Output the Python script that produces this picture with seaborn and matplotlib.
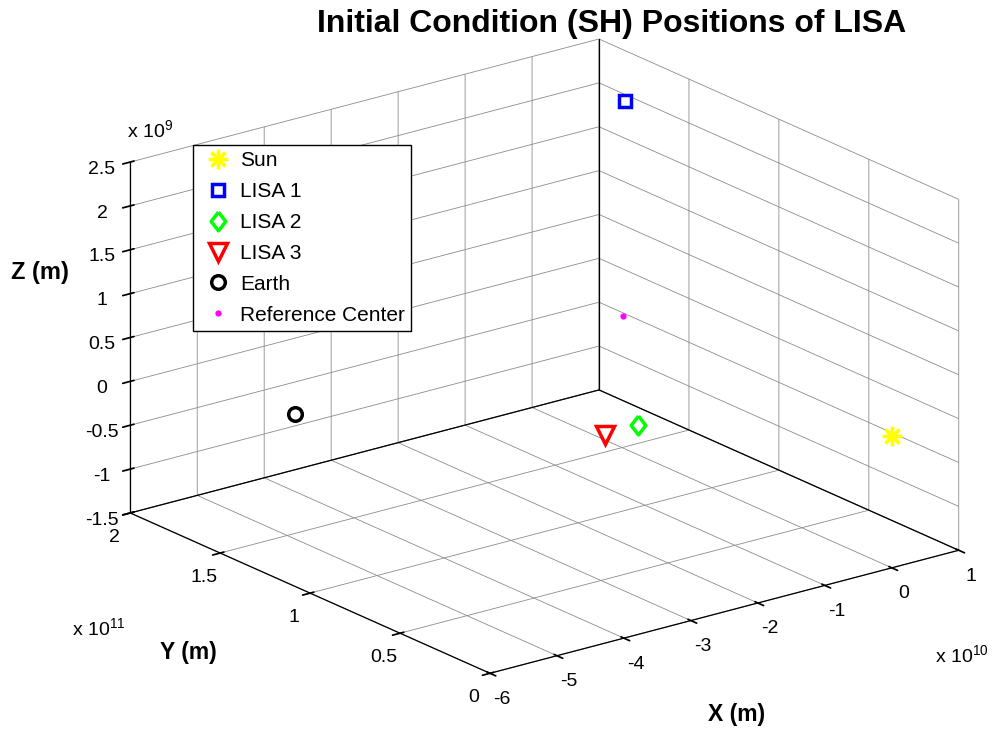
import numpy as np
import matplotlib
matplotlib.use("Agg")
import matplotlib.pyplot as plt
import seaborn as sns
from mpl_toolkits.mplot3d import proj3d

# ---------------- data ----------------
names = ["Sun", "LISA 1", "LISA 2", "LISA 3", "Earth", "Reference Center"]
x_m = [0.0, 0.0, 2.5e9, -2.5e9, -5.15e10, 0.0]
y_m = [0.0, 1.4816e11, 1.5032e11, 1.5032e11, 1.403e11, 1.496e11]
z_m = [0.0, 2.47e9, -1.30e9, -1.31e9, 0.0, 0.0]

x_ticks = [-6e10, -5e10, -4e10, -3e10, -2e10, -1e10, 0.0, 1e10]
x_tick_labels = ["-6", "-5", "-4", "-3", "-2", "-1", "0", "1"]
y_ticks = [0.0, 0.5e11, 1.0e11, 1.5e11, 2.0e11]
y_tick_labels = ["0", "0.5", "1", "1.5", "2"]
z_ticks = [-1.5e9, -1.0e9, -0.5e9, 0.0, 0.5e9, 1.0e9, 1.5e9, 2.0e9, 2.5e9]
z_tick_labels = ["-1.5", "-1", "-0.5", "0", "0.5", "1", "1.5", "2", "2.5"]

# ---------------- styles ----------------
colors = ["#ffff00", "#0000ff", "#00ff00", "#ff0000", "#000000", "#ff00ff"]
diamond = [(0, 1), (0.78, 0), (0, -1), (-0.78, 0), (0, 1)]
markers = [(8, 2, 0), "s", diamond, "v", "o", "o"]
msizes = [14, 8.8, 13.5, 12.5, 9.8, 4.5]
mews = [2.4, 2.5, 2.5, 2.5, 2.5, 0.0]
filled = [True, False, False, False, False, True]

sns.set_theme(style="white")
plt.rcParams["font.family"] = ["Liberation Sans", "DejaVu Sans"]
plt.rcParams["mathtext.fontset"] = "custom"
plt.rcParams["mathtext.rm"] = "Liberation Sans"
plt.rcParams["grid.color"] = "0.55"
plt.rcParams["grid.linewidth"] = 0.6
plt.rcParams["text.color"] = "black"
plt.rcParams["axes.labelcolor"] = "black"
plt.rcParams["xtick.color"] = "black"
plt.rcParams["ytick.color"] = "black"

W, H = 993, 729
fig = plt.figure(figsize=(W / 100, H / 100), dpi=100)
side = 900
cx, cy = 544.5, 356.2
ax = fig.add_axes([(cx - side / 2) / W, (H - cy - side / 2) / H, side / W, side / H],
                  projection="3d")
ax.set_proj_type("ortho")
ax.view_init(elev=20, azim=-127.5)
aspect = (1.0, 1.0, 0.632)
zoom = 1.0
ax.set_box_aspect(aspect, zoom=zoom)

xlim = (x_ticks[0], x_ticks[-1])
ylim = (y_ticks[0], y_ticks[-1])
zlim = (z_ticks[0], z_ticks[-1])
ax.set_xlim(*xlim)
ax.set_ylim(*ylim)
ax.set_zlim(*zlim)
ax.set_xticks(x_ticks)
ax.set_xticklabels(x_tick_labels)
ax.set_yticks(y_ticks)
ax.set_yticklabels(y_tick_labels)
ax.set_zticks(z_ticks)
ax.set_zticklabels(z_tick_labels)
ax.tick_params(labelsize=14, colors="black")

for a in (ax.xaxis, ax.yaxis, ax.zaxis):
    a.set_pane_color((1, 1, 1, 0))
    a.pane.set_edgecolor("none")
    a.line.set_color("black")
    a.line.set_linewidth(0.9)
    a._axinfo["grid"].update(color="0.55", linewidth=0.6, linestyle="-")
    a._axinfo["tick"]["color"] = "black"
ax.grid(True)

# back box edges (black in the reference)
kw = dict(color="black", linewidth=0.9)
ax.plot([xlim[1], xlim[1]], [ylim[1], ylim[1]], [zlim[0], zlim[1]], **kw)
ax.plot([xlim[0], xlim[1]], [ylim[1], ylim[1]], [zlim[0], zlim[0]], **kw)
ax.plot([xlim[1], xlim[1]], [ylim[0], ylim[1]], [zlim[0], zlim[0]], **kw)

for i, n in enumerate(names):
    ax.plot([x_m[i]], [y_m[i]], [z_m[i]], linestyle="none", marker=markers[i],
            markersize=msizes[i], markeredgewidth=mews[i], color=colors[i],
            markerfacecolor=colors[i] if filled[i] else "none",
            markeredgecolor=colors[i], label=n)

leg = ax.legend(loc="upper left", bbox_to_anchor=(193 / W, 1 - 145 / H),
                bbox_transform=fig.transFigure, fontsize=15, frameon=True,
                fancybox=False, edgecolor="black", framealpha=1, numpoints=1,
                handlelength=1.8, handletextpad=0.15, borderpad=0.3,
                labelspacing=0.57, borderaxespad=0)
leg.get_frame().set_linewidth(1.0)
for t in leg.get_texts():
    t.set_color("black")

# text outside the axes
fig.text(612 / W, 1 - 24 / H, "Initial Condition (SH) Positions of LISA",
         ha="center", va="center", fontsize=23, fontweight="bold")
fig.text(40 / W, 1 - 272 / H, "Z (m)", ha="center", va="center", fontsize=17, fontweight="bold")
fig.text(188 / W, 1 - 652 / H, "Y (m)", ha="center", va="center", fontsize=16.5, fontweight="bold")
fig.text(737 / W, 1 - 714 / H, "X (m)", ha="center", va="center", fontsize=16.5, fontweight="bold")
fig.text(127 / W, 1 - 138 / H, r"x 10$^{\mathregular{9}}$", ha="left", va="baseline", fontsize=14)
fig.text(72 / W, 1 - 636 / H, r"x 10$^{\mathregular{11}}$", ha="left", va="baseline", fontsize=14)
fig.text(935 / W, 1 - 663 / H, r"x 10$^{\mathregular{10}}$", ha="left", va="baseline", fontsize=14)


# -------- calibrate the projected box onto the reference pixel box --------
def proj_px(x, y, z):
    xs, ys, _ = proj3d.proj_transform(x, y, z, ax.M)
    return np.array(ax.transData.transform((xs, ys)))


t1 = np.array([490.0, H - 673.3])   # (xmin, ymin, zmin)
t2 = np.array([599.0, H - 39.0])    # (xmax, ymax, zmax)
for _ in range(3):
    fig.canvas.draw()
    p1 = proj_px(xlim[0], ylim[0], zlim[0])
    p2 = proj_px(xlim[1], ylim[1], zlim[1])
    zoom *= np.linalg.norm(t2 - t1) / np.linalg.norm(p2 - p1)
    ax.set_box_aspect(aspect, zoom=zoom)
    fig.canvas.draw()
    p1 = proj_px(xlim[0], ylim[0], zlim[0])
    p2 = proj_px(xlim[1], ylim[1], zlim[1])
    dc = (t1 + t2) / 2 - (p1 + p2) / 2
    pos = ax.get_position(original=True)
    ax.set_position([pos.x0 + dc[0] / W, pos.y0 + dc[1] / H, pos.width, pos.height])

fig.savefig("out.png", dpi=100)
